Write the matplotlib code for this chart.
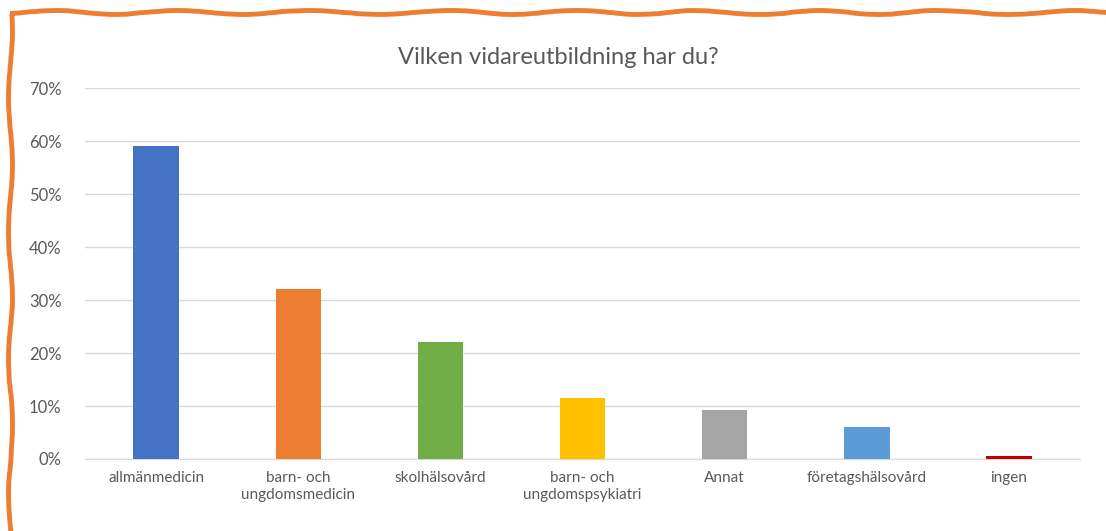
"""
Vilken vidareutbildning har du? - bar chart
"""

import matplotlib.pyplot as plt
from matplotlib.patches import Rectangle
from matplotlib.ticker import PercentFormatter

categories = [
    "allmänmedicin",
    "barn- och\nungdomsmedicin",
    "skolhälsovård",
    "barn- och\nungdomspsykiatri",
    "Annat",
    "företagshälsovård",
    "ingen",
]
shares = [0.59, 0.32, 0.22, 0.115, 0.092, 0.06, 0.006]
colors = ["#4472C4", "#ED7D31", "#70AD47", "#FFC000", "#A5A5A5", "#5B9BD5", "#C00000"]
yticks = [0, 0.1, 0.2, 0.3, 0.4, 0.5, 0.6, 0.7]

plt.rcParams["font.family"] = ["Lato", "DejaVu Sans"]

fig = plt.figure(figsize=(11.06, 5.31), dpi=100)
ax = fig.add_axes([0.0769, 0.1356, 0.8996, 0.6986])

x = range(len(categories))
ax.bar(x, shares, width=0.32, color=colors, zorder=3)

ax.set_xlim(-0.5, len(categories) - 0.5)
ax.set_ylim(0, 0.7)
ax.set_yticks(yticks)
ax.yaxis.set_major_formatter(PercentFormatter(1.0, decimals=0))
ax.set_xticks(list(x))
ax.set_xticklabels(categories, linespacing=1.2)

# gridlines like Excel
ax.grid(axis="y", color="#d9d9d9", linewidth=1, zorder=0)
for side in ("top", "right", "left"):
    ax.spines[side].set_visible(False)
ax.spines["bottom"].set_color("#d9d9d9")
ax.tick_params(axis="both", length=0, colors="#595959")
ax.tick_params(axis="x", pad=9, labelsize=11)
ax.tick_params(axis="y", pad=17, labelsize=12)

fig.text(0.505, 0.892, "Vilken vidareutbildning har du?", ha="center",
         va="center", fontsize=17, color="#595959")

# hand-drawn orange frame
frame = Rectangle((0.009, -0.2), 1.2, 1.177, transform=fig.transFigure,
                  fill=False, edgecolor="#ED7D31", linewidth=3.5, zorder=10)
frame.set_sketch_params(scale=2.0, length=160, randomness=3)
fig.add_artist(frame)

fig.savefig("out.png", dpi=100)
